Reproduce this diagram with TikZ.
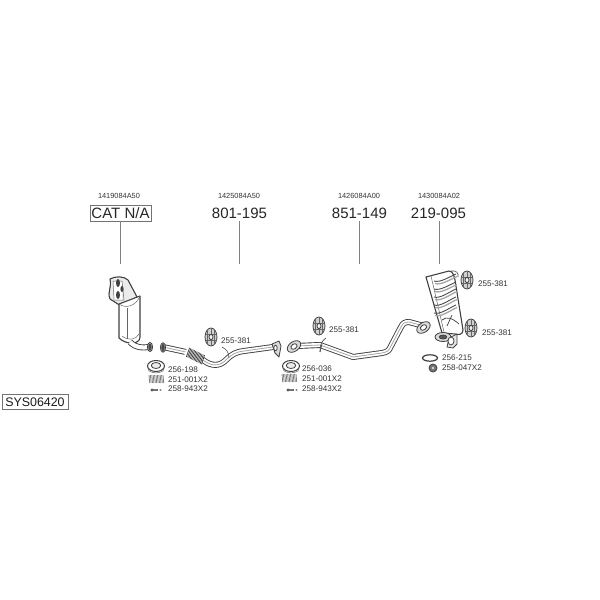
\documentclass[tikz,border=0pt]{standalone}
\usepackage{fontspec}
\setmainfont{Liberation Sans}
\tikzset{
 x=1pt,y=-1pt,
 big/.style={font=\fontsize{15}{16}\selectfont,text=black!85,inner sep=0pt},
 small/.style={font=\fontsize{7.4}{8}\selectfont,text=black!80,inner sep=0pt},
 lab/.style={font=\fontsize{8.1}{9}\selectfont,text=black!80,inner sep=0pt,anchor=west},
 boxed/.style={draw=black!55,line width=.7pt,inner sep=0pt,text=black!90,minimum height=16pt},
 leader/.style={draw=black!50,line width=.9pt},
 pipeo/.style={draw=black!75,line width=6pt,line join=round},
 pipei/.style={draw=white,line width=4.2pt,line join=round},
 pipec/.style={draw=black!35,line width=.8pt,line join=round},
 part/.style={draw=black!75,line width=.8pt,fill=white,line join=round},
 thin part/.style={draw=black!60,line width=.5pt},
 grommet/.pic={
  \draw[part,fill=black!18] (0,0) ellipse (6 and 9);
  \draw[thin part] (-3.5,-7)--(-3.5,7) (0,-9)--(0,9) (3.5,-7)--(3.5,7);
  \draw[thin part] (-5.5,-3)--(5.5,-3) (-5.5,3)--(5.5,3);
  \draw[part,fill=black!5] (0,0) ellipse (2 and 2.6);
 },
 ringpart/.pic={
  \draw[part,line width=1pt] (0,-1) ellipse (8.5 and 5.5);
  \draw[part,fill=black!8] (0,-1.5) ellipse (4.8 and 3);
  \draw[thin part] (-8.3,0)--(-7,4) .. controls (-3,6.5) and (3,6.5) .. (7,4) -- (8.3,0);
 },
 springpart/.pic={
  \foreach \i in {-8,-6.6,...,6.5} \draw[draw=black!50,line width=.8pt] (\i,-4)--(\i+.7,4);
 },
 boltpart/.pic={
  \fill[black!65] (-5,0) circle (1.6);
  \draw[black!55,line width=1.1pt] (-4,0)--(1,0);
  \fill[black!45] (3.5,0) ellipse (1.3 and 1);
 },
 flangepart/.pic={
  \draw[part,fill=black!15,rotate=35] (0,0) ellipse (7.5 and 4.8);
  \draw[part,rotate=35] (0,0) ellipse (3.4 and 2.4);
 },
}
\begin{document}
\begin{tikzpicture}
\useasboundingbox (0,0) rectangle (600,600);
% headers
\node[small] (ref1) at (119,196) {1419084A50};
\node[small] (ref2) at (239,196) {1425084A50};
\node[small] (ref3) at (359,196) {1426084A00};
\node[small] (ref4) at (439,196) {1430084A02};
\node[boxed,big,minimum width=61pt] (n1) at (120.5,213) {CAT N/A};
\node[big] (n2) at (239.5,213) {801-195};
\node[big] (n3) at (359.5,213) {851-149};
\node[big] (n4) at (438.5,213) {219-095};
\coordinate (e1) at (120,264);
\coordinate (e2) at (239.5,264);
\coordinate (e3) at (359.5,264);
\coordinate (e4) at (439.5,264);
\draw[leader] (n1.south -| e1) -- (e1);
\draw[leader] (239.5,221) -- (e2);
\draw[leader] (359.5,221) -- (e3);
\draw[leader] (439.5,221) -- (e4);
\node[boxed,font=\fontsize{12.4}{13}\selectfont,minimum width=66pt,minimum height=15pt] (sys) at (35,402) {SYS06420};

% catalyst
\draw[part,line width=1.1pt,fill=black!8] (110,279) .. controls (115,276) and (124,276) .. (128,280) -- (137,297) -- (121,306) -- (110,299) .. controls (107,292) and (112,288) .. (110,279) -- cycle;
\fill[white] (113,281) rectangle (122,300);
\draw[thin part] (113,281) -- (122,281) -- (124,300) -- (114,300) -- cycle;
\fill[black!75] (118,283) ellipse (2 and 4) (118,295) ellipse (2 and 4) (122,289) ellipse (1.6 and 3);
\draw[part,line width=1.1pt] (119,304) -- (140,296) -- (140,337) .. controls (140,345) and (126,345) .. (119,338) -- cycle;
\draw[thin part] (119,304) .. controls (126,309) and (136,306) .. (140,296);
\draw[thin part] (127,308)--(127,339);
\draw[thin part] (122,336) .. controls (128,341) and (136,340) .. (139,334);
\draw[pipeo] (130,342) .. controls (136,348) and (142,348) .. (149,347);
\draw[pipei] (130,342) .. controls (136,348) and (142,348) .. (149,347);
\draw[part,fill=black!25] (150,347) ellipse (2.6 and 4.6);
\draw[part,fill=black!65] (150,347) ellipse (1.2 and 2.8);

% front pipe
\draw[pipeo] (163,347) -- (186,352) -- (203,360) .. controls (212,367) and (220,366) .. (226,360) .. controls (232,354) and (236,352) .. (244,351) -- (273,347);
\draw[pipei] (163,347) -- (186,352) -- (203,360) .. controls (212,367) and (220,366) .. (226,360) .. controls (232,354) and (236,352) .. (244,351) -- (273,347);
\draw[pipec] (163,347) -- (186,352) -- (203,360) .. controls (212,367) and (220,366) .. (226,360) .. controls (232,354) and (236,352) .. (244,351) -- (273,347);
\draw[part,fill=black!30] (163,347.5) ellipse (2.6 and 4.8);
\draw[part,fill=black!70] (163,347.5) ellipse (1.2 and 3);
\fill[white] (187,348) -- (204,356) -- (201,365) -- (184,356) -- cycle;
\foreach \t in {0,1,...,12}
 \draw[black!75,line width=.75pt] ({188+\t*1.25+1.6},{347.8+\t*.62}) -- ({188+\t*1.25-1.6},{356.8+\t*.62});
\draw[part,fill=black!15] (272,344) -- (279,341) -- (281,346) -- (279,357) -- (275,353) -- cycle;
\draw[part] (275.5,348) ellipse (1.7 and 2.8);
\draw[black!70,line width=.6pt] (222,347) .. controls (226,349) and (229,352) .. (229,358);

% mid pipe
\draw[pipeo] (296,346) -- (320,345) -- (353,357) -- (382,353) .. controls (387,352) and (389,351) .. (391,346) -- (401,327) .. controls (403,323) and (405,322) .. (409,322) -- (424,326);
\draw[pipei] (296,346) -- (320,345) -- (353,357) -- (382,353) .. controls (387,352) and (389,351) .. (391,346) -- (401,327) .. controls (403,323) and (405,322) .. (409,322) -- (424,326);
\draw[pipec] (296,346) -- (320,345) -- (353,357) -- (382,353) .. controls (387,352) and (389,351) .. (391,346) -- (401,327) .. controls (403,323) and (405,322) .. (409,322) -- (424,326);
\pic at (294,346.5) {flangepart};
\pic at (423.5,327.5) {flangepart};
\draw[black!75,line width=.6pt] (320,352) .. controls (320,343) and (322,341) .. (326,338);
\draw[black!75,line width=.6pt] (322,344) -- (320,352);

% muffler
\draw[part,line width=1.1pt] (426,277) -- (449,271) .. controls (453,271) and (454,276) .. (455,280) -- (463,330) .. controls (463,335) and (458,335) .. (455,334) -- (442,333) -- cycle;
\draw[thin part] (431,276) -- (444,332);
\foreach \a/\b in {281/277,289/285,297/292,305/300,313/308} {
 \draw[black!70,line width=.9pt] (434,\a) .. controls (440,{\a+2}) and (449,\b) .. (456,{\b-3});
 \draw[black!35,line width=1.3pt] (435,{\a+2.5}) .. controls (441,{\a+4.5}) and (450,{\b+2.5}) .. (457,{\b-.5});
}
\draw[black!75,line width=.7pt] (442,320) .. controls (447,316) and (452,318) .. (459,324);
\draw[black!75,line width=.7pt] (447,326) -- (452,315);
\draw[black!70,line width=.6pt] (451,271) .. controls (456,270) and (459,273) .. (458,277);
\draw[part,fill=black!10] (449,338) -- (457,334) -- (457,344) -- (453,348) -- (447,347) -- cycle;
\draw[part,fill=black!15] (443,337) ellipse (8 and 4.5);
\draw[part,fill=black!65] (443,337) ellipse (3.8 and 2);
\draw[part,fill=white] (451,341) ellipse (3 and 4);

% parts
\pic at (211,337) {grommet};
\pic at (319,326) {grommet};
\pic at (467,280) {grommet};
\pic at (471,328) {grommet};
\pic at (156,367) {ringpart};
\pic at (291,367) {ringpart};
\pic at (157,379) {springpart};
\pic at (290,378) {springpart};
\pic at (157,390) {boltpart};
\pic at (293,390) {boltpart};
\draw[part,line width=1.2pt] (430,358) ellipse (7.5 and 3.2);
\draw[part,fill=black!55] (433,368) circle (4);
\draw[fill=black!15,draw=none] (433,368) circle (1.4);

% labels
\node[lab] (a1) at (221,341) {255-381};
\node[lab] (a2) at (329,330) {255-381};
\node[lab] (a3) at (478,284) {255-381};
\node[lab] (a4) at (482,333) {255-381};
\node[lab] (b1) at (168,370) {256-198};
\node[lab] (b2) at (168,379.5) {251-001X2};
\node[lab] (b3) at (168,389) {258-943X2};
\node[lab] (c1) at (302,369) {256-036};
\node[lab] (c2) at (302,378.5) {251-001X2};
\node[lab] (c3) at (302,388.5) {258-943X2};
\node[lab] (d1) at (442,358) {256-215};
\node[lab] (d2) at (442,368) {258-047X2};
\end{tikzpicture}
\end{document}
